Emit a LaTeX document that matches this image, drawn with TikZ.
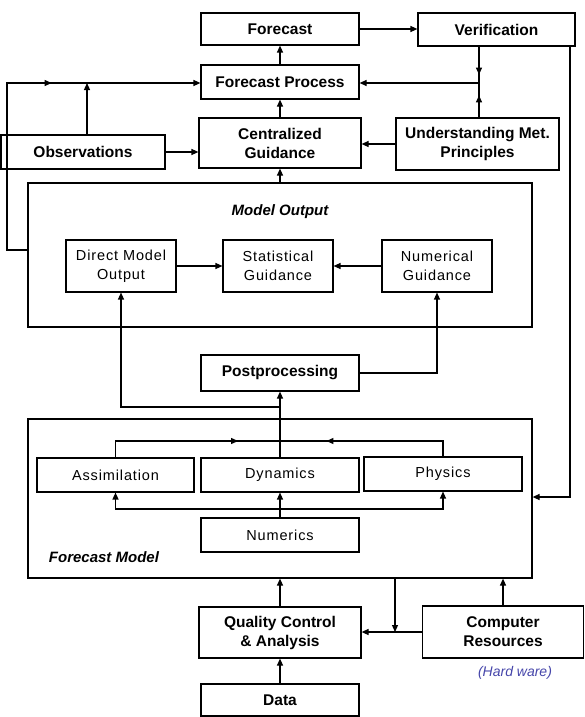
\documentclass[tikz,border=0pt]{standalone}
\usepackage{fontspec}
\setmainfont{Liberation Sans}
\newfontfamily\spacedfont[LetterSpace=6]{Liberation Sans}
\usetikzlibrary{arrows.meta,decorations.markings}
\definecolor{pen}{RGB}{70,70,170}
\begin{document}
\begin{tikzpicture}[x=1pt,y=-1pt,line width=1.2pt,
 box/.style={draw,line width=1.2pt,inner sep=0pt,align=center,font=\fontsize{15.5}{19}\selectfont\bfseries},
 ibox/.style={draw,line width=1.1pt,inner sep=0pt,align=center,font=\spacedfont\fontsize{14.5}{19}\selectfont},
 frame/.style={draw,line width=1.2pt,inner sep=0pt},
 lbl/.style={font=\fontsize{15}{18}\selectfont\bfseries\itshape},
 arr/.style={-{Triangle[length=7pt,width=6pt]}},
 midarr/.style={postaction={decorate},decoration={markings,mark=at position #1 with {\arrow{Triangle[length=7pt,width=6pt]}}}}]
\useasboundingbox (0,0) rectangle (584,717);
% top row
\node[box,minimum width=158pt,minimum height=32pt] (F) at (280,29) {Forecast};
\node[box,minimum width=157pt,minimum height=33pt] (V) at (496.5,29.5) {Verification};
\node[box,minimum width=158pt,minimum height=34pt] (FP) at (280,82) {Forecast Process};
\node[box,minimum width=162pt,minimum height=50pt] (CG) at (280,143) {Centralized\\Guidance};
\node[box,minimum width=164pt,minimum height=34pt] (Obs) at (83,152) {Observations};
\node[box,minimum width=163pt,minimum height=52pt] (UMP) at (477.5,144) {Understanding Met.\\Principles};
% model output
\node[frame,minimum width=504pt,minimum height=144pt] (MO) at (280,255) {};
\node[lbl] (mol) at (280,212) {Model Output};
\node[ibox,minimum width=110pt,minimum height=52pt] (DMO) at (121,266) {Direct Model\\Output};
\node[ibox,minimum width=110pt,minimum height=52pt] (SG) at (278,266) {Statistical\\Guidance};
\node[ibox,minimum width=110pt,minimum height=52pt] (NG) at (437,266) {Numerical\\Guidance};
\node[box,minimum width=158pt,minimum height=36pt] (PP) at (280,373) {Postprocessing};
% forecast model
\node[frame,minimum width=504pt,minimum height=159pt] (FM) at (280,498.5) {};
\node[lbl,anchor=west] (fml) at (45,557) {Forecast Model};
\node[ibox,minimum width=157pt,minimum height=34pt] (As) at (115.5,475) {Assimilation};
\node[ibox,minimum width=158pt,minimum height=34pt] (Dy) at (280,475) {Dynamics};
\node[ibox,minimum width=158pt,minimum height=34pt] (Ph) at (443,474) {Physics};
\node[ibox,minimum width=158pt,minimum height=34pt] (Nu) at (280,535) {Numerics};
% bottom
\node[box,minimum width=162pt,minimum height=51pt] (QC) at (280,632.5) {Quality Control\\\& Analysis};
\node[box,minimum width=161pt,minimum height=52pt] (CR) at (503,632) {Computer\\Resources};
\node[box,minimum width=158pt,minimum height=32pt] (Da) at (280,700) {Data};
\node[text=pen,font=\fontsize{14}{16}\selectfont\itshape] (hw) at (515,673) {(Hard ware)};
% helper coordinates
\coordinate (jl) at (87,83);
\coordinate (lb) at (7,250);
\coordinate (lt) at (7,83);
\coordinate (jr) at (479,83);
\coordinate (rr) at (570,497);
\coordinate (jd) at (280,407);
\coordinate (tl) at (280,441);
\coordinate (bl) at (280,509);
\coordinate (jb) at (395,632);
% top connectors
\draw[arr] (F.east) -- (F.east -| V.west);
\draw[arr] (FP.north) -- (F.south);
\draw[arr] (CG.north) -- (FP.south);
\draw[arr] (MO.north) -- (CG.south);
\draw[arr] (Obs.east) -- (Obs.east -| CG.west);
\draw[arr] (UMP.west) -- (UMP.west -| CG.east);
\draw[arr] (Obs.north -| jl) -- (jl);
\draw[arr,midarr=232pt] (MO.west |- lb) -- (lb) -- (lt) -- (lt -| FP.west);
\draw[midarr=28pt] (V.south -| jr) -- (jr);
\draw[midarr=22pt] (UMP.north -| jr) -- (jr);
\draw[arr] (jr) -- (jr -| FP.east);
\draw[arr] (V.south -| rr) -- (rr) -- (rr -| FM.east);
% model output connectors
\draw[arr] (DMO.east) -- (SG.west);
\draw[arr] (NG.west) -- (SG.east);
\draw[arr] (PP.east) -| (NG.south);
\draw[arr] (Dy.north) -- (PP.south);
\draw[arr] (jd) -| (DMO.south);
% forecast model connectors
\draw[midarr=139pt] (As.north) |- (tl);
\draw[midarr=132pt] (Ph.north) |- (tl);
\draw[arr] (Nu.north) -- (Dy.south);
\draw[arr] (bl) -| (As.south);
\draw[arr] (bl) -| (Ph.south);
% bottom connectors
\draw[arr] (QC.north) -- (FM.south);
\draw[arr] (Da.north) -- (QC.south);
\draw[arr] (CR.west) -- (CR.west -| QC.east);
\draw[arr] (FM.south -| jb) -- (jb);
\draw[arr] (CR.north) -- (CR.north |- FM.south);
\end{tikzpicture}
\end{document}
